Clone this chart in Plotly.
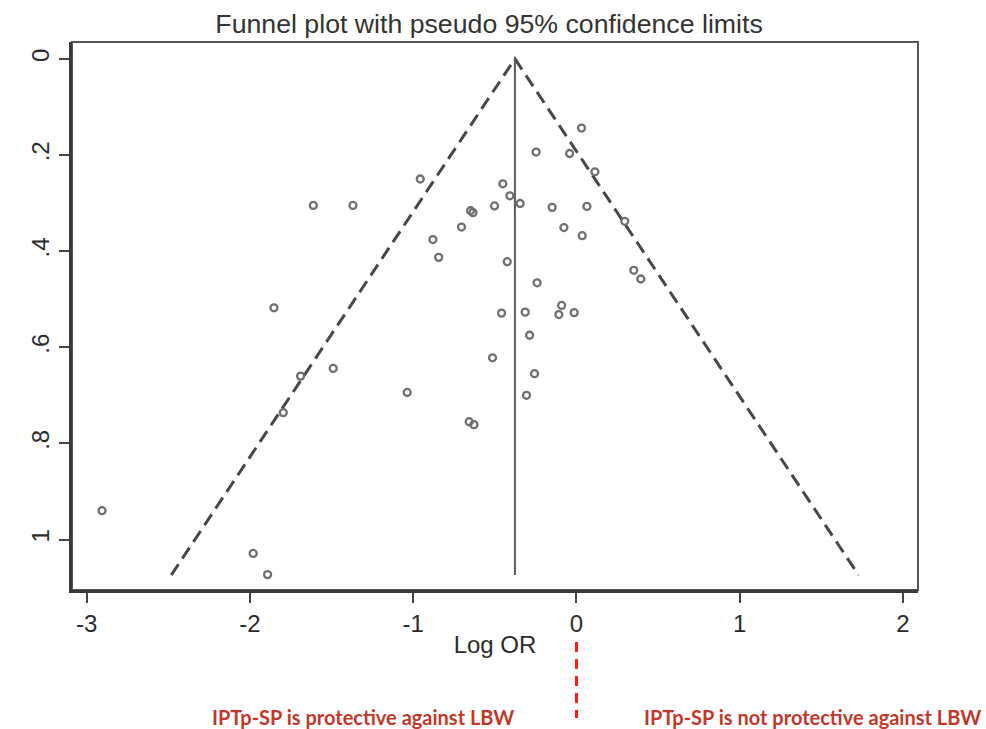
import plotly.graph_objects as go

# Study estimates (log odds ratio) and their standard errors
log_or = [0.031, -0.247, -0.042, 0.113, -0.957, -0.451, -0.408, -0.345, -0.502, -0.149,
          0.064, -1.612, -1.369, -0.649, -0.634, -0.704, -0.077, 0.296, -0.879, 0.035,
          -0.844, -0.424, -0.241, 0.351, 0.394, -1.853, -0.459, -0.314, -0.091, -0.108,
          -0.014, -0.287, -0.514, -1.490, -1.690, -1.796, -1.037, -0.257, -0.306, -0.657,
          -0.628, -2.906, -1.980, -1.892]
se = [0.144, 0.194, 0.197, 0.235, 0.250, 0.260, 0.285, 0.301, 0.306, 0.309,
      0.307, 0.305, 0.305, 0.316, 0.320, 0.350, 0.351, 0.338, 0.376, 0.368,
      0.413, 0.422, 0.466, 0.440, 0.458, 0.518, 0.529, 0.527, 0.513, 0.532,
      0.528, 0.575, 0.622, 0.644, 0.660, 0.736, 0.694, 0.655, 0.700, 0.755,
      0.761, 0.940, 1.029, 1.073]

pooled = -0.377
se_max = 1.074
z = 1.96

x_ticks = [-3, -2, -1, 0, 1, 2]
y_ticks = [0, 0.2, 0.4, 0.6, 0.8, 1]
y_tick_text = ["0", ".2", ".4", ".6", ".8", "1"]

title_text = "Funnel plot with pseudo 95% confidence limits"
x_title = "Log OR"
left_note = "IPTp-SP is protective against LBW"
right_note = "IPTp-SP is not protective against LBW"

fig = go.Figure()

# pseudo 95% confidence limits
fig.add_trace(go.Scatter(
    x=[pooled - z * se_max, pooled, pooled + z * se_max],
    y=[se_max, 0, se_max],
    mode="lines",
    line=dict(color="#474747", width=3, dash="13px,7px"),
    hoverinfo="skip", showlegend=False))

# pooled estimate line
fig.add_trace(go.Scatter(
    x=[pooled, pooled], y=[0, se_max],
    mode="lines", line=dict(color="#5a5a5a", width=2),
    hoverinfo="skip", showlegend=False))

# studies
fig.add_trace(go.Scatter(
    x=log_or, y=se, mode="markers",
    marker=dict(symbol="circle-open", size=7, color="#707070",
                line=dict(width=2.3, color="#707070")),
    showlegend=False))

axis_font = dict(family="Liberation Sans, Arial, sans-serif", size=24, color="#2b2b2b")

fig.update_layout(
    width=986, height=729,
    margin=dict(l=72, r=68, t=42, b=139),
    paper_bgcolor="white", plot_bgcolor="white",
    title=dict(text=title_text, x=0.496, xanchor="center",
               y=1 - 24 / 729, yanchor="middle", yref="container",
               font=dict(family="Liberation Sans, Arial, sans-serif", size=26.7, color="#333333")),
    xaxis=dict(range=[-3.09, 2.092], tickvals=x_ticks, ticktext=[str(v) for v in x_ticks],
               showgrid=False, zeroline=False, showline=True, linewidth=3, linecolor="#3a3a3a",
               ticks="outside", ticklen=10, tickwidth=2, tickcolor="#444444",
               tickfont=axis_font,
               title=dict(text=x_title, font=axis_font, standoff=1)),
    yaxis=dict(range=[1.105, -0.035], tickvals=y_ticks, ticktext=y_tick_text,
               showgrid=False, zeroline=False, showline=True, linewidth=3, linecolor="#3a3a3a",
               ticks="outside", ticklen=10, tickwidth=2, tickcolor="#444444",
               tickangle=-90, tickfont=axis_font),
)

# top/right frame
fig.add_shape(type="rect", xref="paper", yref="paper", x0=0, x1=1, y0=0, y1=1,
              line=dict(color="#555555", width=2), fillcolor="rgba(0,0,0,0)", layer="below")

# red dashed divider below the axis at log OR = 0
fig.add_shape(type="line", xref="x", yref="paper", x0=0, x1=0,
              y0=-(642 - 590) / 548, y1=-(718 - 590) / 548,
              line=dict(color="#ff1a1a", width=3, dash="10px,7px"))

note_font = dict(family="Lato, Open Sans, sans-serif", size=20, color="#c0392b")
fig.add_annotation(text="<b>" + left_note + "</b>", xref="paper", yref="paper",
                   x=(363 - 72) / 846.3, y=-(717 - 590) / 548,
                   xanchor="center", yanchor="middle", showarrow=False, font=note_font)
fig.add_annotation(text="<b>" + right_note + "</b>", xref="paper", yref="paper",
                   x=(813 - 72) / 846.3, y=-(717 - 590) / 548,
                   xanchor="center", yanchor="middle", showarrow=False, font=note_font)

fig.write_html("out.html")
